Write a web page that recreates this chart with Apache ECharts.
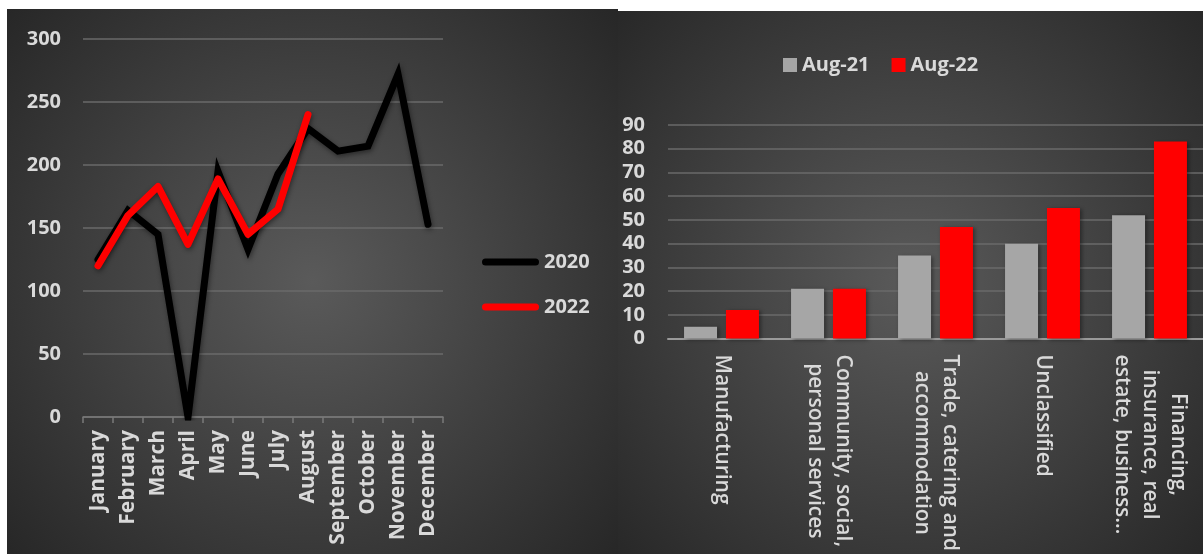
<!DOCTYPE html>
<html><head><meta charset="utf-8">
<script src="https://cdn.jsdelivr.net/npm/echarts@6/dist/echarts.min.js"></script>
<style>html,body{margin:0;padding:0;background:#fff;}#c{width:1203px;height:554px;}</style>
</head><body><div id="c"></div>
<script>
const months = ['January','February','March','April','May','June','July','August','September','October','November','December'];
const values2020 = [125,164,145,0,195,133,193,229,211,215,272,153];
const values2022 = [120,160,183,137,189,145,165,240];
const lineSeriesNames = ['2020','2022'];

const sectors = ['Manufacturing','Community, social,\npersonal services','Trade, catering and\naccommodation','Unclassified','Financing,\ninsurance, real\nestate, business\u2026'];
const aug21 = [5,21,35,40,52];
const aug22 = [12,21,47,55,83];
const barSeriesNames = ['Aug-21','Aug-22'];

const FONT = 'Open Sans';
const TXT = '#d9d9d9';
const GRIDC = '#6a6a6a';

const chart = echarts.init(document.getElementById('c'), null, {renderer:'canvas'});
function panelFill(){
  return new echarts.graphic.RadialGradient(0.5, 0.5, 0.78, [
    {offset:0, color:'#5a5a5a'},{offset:1, color:'#252525'}]);
}
const roundLine = 'path://M3.5,0 L53.5,0 A3.5,3.5 0 0 1 53.5,7 L3.5,7 A3.5,3.5 0 0 1 3.5,0 Z';

chart.setOption({
  animation:false,
  backgroundColor:'#ffffff',
  graphic:{elements:[
    {type:'rect', z:-100, shape:{x:7,y:9,width:611,height:545}, style:{fill:panelFill()}},
    {type:'rect', z:-100, shape:{x:618,y:11,width:585,height:543}, style:{fill:panelFill()}}
  ]},
  legend:[
    {orient:'vertical', left:482, top:252, padding:0, itemWidth:57, itemHeight:7, itemGap:25,
     icon:roundLine, data:lineSeriesNames,
     textStyle:{color:TXT, fontFamily:FONT, fontWeight:'bold', fontSize:20}},
    {orient:'horizontal', left:783, top:55, padding:0, itemWidth:14, itemHeight:14, itemGap:22,
     icon:'rect', data:barSeriesNames,
     textStyle:{color:TXT, fontFamily:FONT, fontWeight:'bold', fontSize:20}}
  ],
  grid:[
    {left:83, top:39, width:360, height:378, containLabel:false},
    {left:668, top:125, width:535, height:215, containLabel:false}
  ],
  xAxis:[
    {type:'category', gridIndex:0, data:months, boundaryGap:true,
     axisLine:{lineStyle:{color:'#7a7a7a', width:1.5}},
     axisTick:{show:true, length:6, lineStyle:{color:'#7a7a7a', width:1.5}},
     axisLabel:{rotate:90, margin:13, interval:0, color:TXT, fontFamily:FONT, fontWeight:'bold', fontSize:21}},
    {type:'category', gridIndex:1, data:sectors, boundaryGap:true,
     axisLine:{lineStyle:{color:'#9a9a9a', width:2}},
     axisTick:{show:false},
     axisLabel:{rotate:-90, margin:16, interval:0, color:TXT, fontFamily:FONT, fontSize:21, fontWeight:600,
       formatter:function(v){return v.split('\n').map(function(s){return '{c|'+s+'}';}).join('\n');},
       rich:{c:{align:'center', color:TXT, fontFamily:FONT, fontSize:21, fontWeight:600, lineHeight:28}}}}
  ],
  yAxis:[
    {type:'value', gridIndex:0, min:0, max:300, interval:50,
     axisLine:{show:false}, axisTick:{show:false},
     splitLine:{lineStyle:{color:GRIDC, width:1.5}},
     axisLabel:{margin:22, color:TXT, fontFamily:FONT, fontWeight:'bold', fontSize:20}},
    {type:'value', gridIndex:1, min:0, max:90, interval:10,
     axisLine:{show:false}, axisTick:{show:false},
     splitLine:{lineStyle:{color:GRIDC, width:1.5}},
     axisLabel:{margin:23, color:TXT, fontFamily:FONT, fontWeight:'bold', fontSize:20}}
  ],
  series:[
    {name:lineSeriesNames[0], type:'line', xAxisIndex:0, yAxisIndex:0, data:values2020,
     color:'#000000', showSymbol:false, symbol:'none',
     lineStyle:{color:'#000000', width:7, cap:'round', join:'miter', miterLimit:10,
       shadowBlur:5, shadowColor:'rgba(0,0,0,0.45)', shadowOffsetX:1, shadowOffsetY:2}},
    {name:lineSeriesNames[1], type:'line', xAxisIndex:0, yAxisIndex:0, data:values2022,
     color:'#ff0000', showSymbol:false, symbol:'none',
     lineStyle:{color:'#ff0000', width:7, cap:'round', join:'round',
       shadowBlur:5, shadowColor:'rgba(0,0,0,0.45)', shadowOffsetX:1, shadowOffsetY:2}},
    {name:barSeriesNames[0], type:'bar', xAxisIndex:1, yAxisIndex:1, data:aug21,
     barWidth:33, barGap:'27%', color:'#a6a6a6',
     itemStyle:{color:'#a6a6a6', shadowBlur:4, shadowColor:'rgba(0,0,0,0.4)', shadowOffsetX:2, shadowOffsetY:1}},
    {name:barSeriesNames[1], type:'bar', xAxisIndex:1, yAxisIndex:1, data:aug22,
     barWidth:33, barGap:'27%', color:'#ff0000',
     itemStyle:{color:'#ff0000', shadowBlur:4, shadowColor:'rgba(0,0,0,0.4)', shadowOffsetX:2, shadowOffsetY:1}}
  ]
});
</script></body></html>
